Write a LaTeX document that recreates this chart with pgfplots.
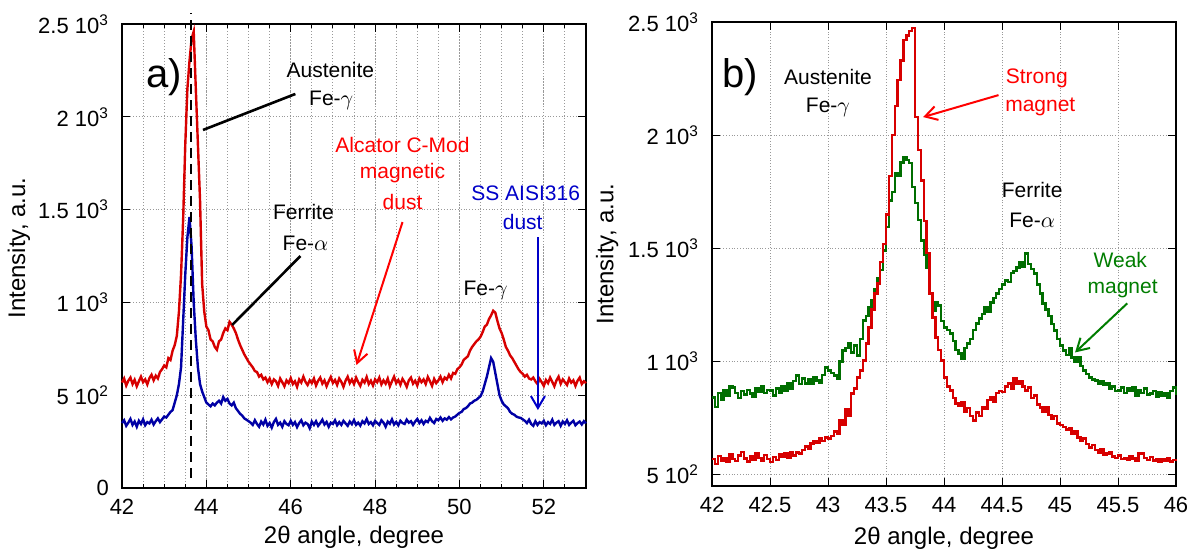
\documentclass[border=0pt]{standalone}
\usepackage{fontspec}
\setmainfont{Liberation Sans}
\usepackage{pgfplots}
\pgfplotsset{compat=1.18}
\usetikzlibrary{arrows.meta}
\definecolor{cred}{RGB}{215,0,0}
\definecolor{cblue}{RGB}{0,0,165}
\definecolor{cgreen}{RGB}{0,110,0}
\definecolor{tred}{RGB}{255,0,0}
\definecolor{tblue}{RGB}{0,0,200}
\definecolor{tgreen}{RGB}{0,125,0}
\tikzset{ann/.style={font=\fontsize{10.5}{12}\selectfont, anchor=center, inner sep=0pt}}
\pgfplotsset{
 common/.style={
  width=232pt, height=232pt, scale only axis,
  axis line style={line width=0.6pt, black},
  tick style={black, line width=0.5pt},
  major tick length=4pt, minor tick length=2pt,
  tick align=inside,
  grid style={densely dotted, gray!80, line width=0.5pt},
  minor grid style={densely dotted, gray!80, line width=0.5pt},
  ticklabel style={font=\fontsize{11}{13}\selectfont},
  xticklabel style={yshift=-2pt},
  yticklabel style={xshift=-3pt},
  xlabel style={font=\fontsize{12}{14}\selectfont},
  ylabel style={font=\fontsize{12}{14}\selectfont},
  clip=false,
 },
}
\begin{document}
\begin{tikzpicture}
% ---------------- panel a ----------------
\begin{axis}[common, at={(0pt,0pt)},
  xmin=42, xmax=53, ymin=0, ymax=2500,
  xtick={42,44,...,52}, xticklabels={42,44,46,48,50,52},
  minor xtick={42.5,43,...,53},
  ytick={0,500,1000,1500,2000,2500},
  yticklabels={0,5 10\textsuperscript{2},1 10\textsuperscript{3},1.5 10\textsuperscript{3},2 10\textsuperscript{3},2.5 10\textsuperscript{3}},
  xmajorgrids, xminorgrids, ymajorgrids,
  xlabel={2θ angle, degree}, ylabel={Intensity, a.u.},
  xlabel style={at={(axis description cs:0.5,-0.106)}, anchor=center},
  ylabel style={at={(axis description cs:-0.222,0.517)}, anchor=center},
]
\addplot[cred, line width=1.2pt] table {
42.00 568
42.05 590
42.10 552
42.15 578
42.20 595
42.25 560
42.30 583
42.35 548
42.40 575
42.45 600
42.50 570
42.55 585
42.60 558
42.65 592
42.70 610
42.75 580
42.80 605
42.85 590
42.90 625
42.95 640
43.00 660
43.05 650
43.10 700
43.15 690
43.20 740
43.25 770
43.30 820
43.35 950
43.40 1150
43.45 1450
43.50 1850
43.55 2150
43.60 2300
43.65 2420
43.70 2460
43.75 2150
43.80 1850
43.85 1550
43.90 1100
43.95 950
44.00 870
44.05 850
44.10 800
44.15 790
44.20 760
44.25 745
44.30 790
44.35 800
44.40 835
44.45 860
44.50 850
44.55 895
44.60 880
44.65 860
44.70 835
44.75 800
44.80 770
44.85 745
44.90 720
44.95 700
45.00 680
45.05 665
45.10 650
45.15 630
45.20 625
45.25 600
45.30 610
45.35 585
45.40 595
45.45 570
45.50 590
45.55 560
45.60 585
45.65 575
45.70 550
45.75 590
45.80 570
45.85 548
45.90 580
45.95 565
46.00 592
46.05 560
46.10 575
46.15 545
46.20 585
46.25 568
46.30 600
46.35 572
46.40 555
46.45 580
46.50 565
46.55 590
46.60 552
46.65 578
46.70 595
46.75 562
46.80 580
46.85 548
46.90 575
46.95 598
47.00 566
47.05 582
47.10 555
47.15 590
47.20 572
47.25 545
47.30 578
47.35 600
47.40 565
47.45 585
47.50 560
47.55 595
47.60 570
47.65 550
47.70 583
47.75 568
47.80 598
47.85 560
47.90 578
47.95 552
48.00 585
48.05 570
48.10 595
48.15 558
48.20 580
48.25 562
48.30 590
48.35 548
48.40 575
48.45 600
48.50 565
48.55 582
48.60 556
48.65 588
48.70 570
48.75 545
48.80 580
48.85 595
48.90 562
48.95 578
49.00 552
49.05 590
49.10 570
49.15 585
49.20 560
49.25 598
49.30 575
49.35 550
49.40 588
49.45 565
49.50 580
49.55 600
49.60 570
49.65 595
49.70 585
49.75 610
49.80 590
49.85 620
49.90 615
49.95 640
50.00 650
50.05 665
50.10 690
50.15 700
50.20 710
50.25 740
50.30 760
50.35 775
50.40 790
50.45 800
50.50 815
50.55 840
50.60 870
50.65 880
50.70 910
50.75 930
50.80 955
50.85 945
50.90 900
50.95 860
51.00 835
51.05 800
51.10 760
51.15 740
51.20 715
51.25 700
51.30 680
51.35 660
51.40 640
51.45 625
51.50 615
51.55 600
51.60 610
51.65 590
51.70 585
51.75 595
51.80 575
51.85 560
51.90 588
51.95 570
52.00 550
52.05 582
52.10 565
52.15 595
52.20 572
52.25 548
52.30 580
52.35 600
52.40 562
52.45 585
52.50 570
52.55 555
52.60 590
52.65 568
52.70 580
52.75 550
52.80 578
52.85 595
52.90 560
52.95 575
53.00 565
};
\addplot[cblue, line width=1.2pt] table {
42.00 350
42.05 365
42.10 335
42.15 352
42.20 372
42.25 340
42.30 358
42.35 330
42.40 362
42.45 345
42.50 370
42.55 338
42.60 355
42.65 348
42.70 368
42.75 342
42.80 360
42.85 375
42.90 355
42.95 370
43.00 385
43.05 380
43.10 395
43.15 410
43.20 420
43.25 460
43.30 500
43.35 560
43.40 650
43.45 900
43.50 1150
43.55 1350
43.60 1460
43.65 1300
43.70 1000
43.75 800
43.80 650
43.85 560
43.90 520
43.95 490
44.00 460
44.05 450
44.10 440
44.15 455
44.20 445
44.25 460
44.30 470
44.35 455
44.40 490
44.45 470
44.50 480
44.55 455
44.60 445
44.65 460
44.70 430
44.75 415
44.80 400
44.85 390
44.90 375
44.95 368
45.00 360
45.05 352
45.10 340
45.15 365
45.20 345
45.25 330
45.30 358
45.35 342
45.40 368
45.45 335
45.50 350
45.55 325
45.60 355
45.65 372
45.70 340
45.75 352
45.80 330
45.85 360
45.90 345
45.95 338
46.00 362
46.05 340
46.10 355
46.15 328
46.20 350
46.25 365
46.30 338
46.35 352
46.40 345
46.45 322
46.50 358
46.55 340
46.60 360
46.65 335
46.70 350
46.75 368
46.80 342
46.85 356
46.90 330
46.95 352
47.00 345
47.05 365
47.10 338
47.15 355
47.20 340
47.25 362
47.30 348
47.35 335
47.40 358
47.45 344
47.50 366
47.55 340
47.60 352
47.65 336
47.70 360
47.75 348
47.80 372
47.85 345
47.90 355
47.95 338
48.00 362
48.05 350
48.10 340
48.15 365
48.20 352
48.25 330
48.30 358
48.35 346
48.40 370
48.45 342
48.50 356
48.55 338
48.60 362
48.65 350
48.70 345
48.75 368
48.80 352
48.85 360
48.90 340
48.95 358
49.00 372
49.05 350
49.10 365
49.15 345
49.20 362
49.25 355
49.30 378
49.35 360
49.40 350
49.45 372
49.50 365
49.55 380
49.60 362
49.65 375
49.70 368
49.75 382
49.80 370
49.85 380
49.90 385
49.95 395
50.00 405
50.05 410
50.10 425
50.15 430
50.20 440
50.25 455
50.30 460
50.35 470
50.40 475
50.45 485
50.50 495
50.55 520
50.60 560
50.65 600
50.70 650
50.75 700
50.80 680
50.85 620
50.90 560
50.95 500
51.00 470
51.05 450
51.10 440
51.15 430
51.20 410
51.25 400
51.30 395
51.35 385
51.40 380
51.45 378
51.50 370
51.55 362
51.60 350
51.65 368
51.70 345
51.75 335
51.80 360
51.85 340
51.90 355
51.95 348
52.00 362
52.05 338
52.10 355
52.15 345
52.20 368
52.25 340
52.30 352
52.35 360
52.40 335
52.45 358
52.50 345
52.55 365
52.60 340
52.65 352
52.70 362
52.75 338
52.80 350
52.85 358
52.90 342
52.95 360
53.00 348
};
\draw[black, dash pattern=on 5pt off 3pt, line width=0.7pt] (axis cs:43.64,54) -- (axis cs:43.64,2559);
\node[ann, font=\fontsize{20}{24}\selectfont] at (axis cs:43.0,2214) {a)};
\node[ann] at (axis cs:46.94,2252) {Austenite};
\node[ann] at (axis cs:46.96,2091) {Fe-$\gamma$};
\draw[black, line width=1.3pt] (axis cs:43.92,1929) -- (axis cs:46.11,2123);
\node[ann] at (axis cs:46.30,1487) {Ferrite};
\node[ann] at (axis cs:46.35,1320) {Fe-$\alpha$};
\draw[black, line width=1.3pt] (axis cs:44.61,878) -- (axis cs:46.23,1250);
\node[ann, text=tred] at (axis cs:48.65,1848) {Alcator C-Mod};
\node[ann, text=tred] at (axis cs:48.65,1697) {magnetic};
\node[ann, text=tred] at (axis cs:48.65,1541) {dust};
\draw[tred, line width=1pt, -{Straight Barb[length=6pt,width=7pt]}] (axis cs:48.65,1433) -- (axis cs:47.56,663);
\node[ann, text=tblue] at (axis cs:51.57,1589) {SS AISI316};
\node[ann, text=tblue] at (axis cs:51.50,1433) {dust};
\draw[tblue, line width=1pt, -{Straight Barb[length=6pt,width=7pt]}] (axis cs:51.86,1352) -- (axis cs:51.86,420);
\node[ann] at (axis cs:50.62,1067) {Fe-$\gamma$};
\end{axis}
% ---------------- panel b ----------------
\begin{axis}[common, at={(295pt,1pt)},
  xmin=42, xmax=46, ymin=450, ymax=2500,
  xtick={42,42.5,...,46}, xticklabels={42,42.5,43,43.5,44,44.5,45,45.5,46},
  ytick={500,1000,1500,2000,2500},
  yticklabels={5 10\textsuperscript{2},1 10\textsuperscript{3},1.5 10\textsuperscript{3},2 10\textsuperscript{3},2.5 10\textsuperscript{3}},
  xmajorgrids, ymajorgrids,
  xlabel={2θ angle, degree}, ylabel={Intensity, a.u.},
  xlabel style={at={(axis description cs:0.5,-0.112)}, anchor=center},
  ylabel style={at={(axis description cs:-0.226,0.5)}, anchor=center},
]
\addplot[cgreen, line width=1.2pt, const plot] table {
42.000 841
42.025 800
42.050 860
42.075 830
42.100 875
42.125 850
42.150 890
42.175 885
42.200 860
42.225 840
42.250 870
42.275 855
42.300 875
42.325 858
42.350 845
42.375 880
42.400 865
42.425 890
42.450 860
42.475 875
42.500 872
42.525 850
42.550 880
42.575 862
42.600 890
42.625 872
42.650 905
42.675 880
42.700 915
42.725 938
42.750 900
42.775 925
42.800 903
42.825 920
42.850 900
42.875 930
42.900 916
42.925 905
42.950 940
42.975 973
43.000 960
43.025 950
43.050 938
43.075 925
43.100 1000
43.125 1049
43.150 1060
43.175 1080
43.200 1040
43.225 1070
43.250 1027
43.275 1100
43.300 1181
43.325 1200
43.350 1240
43.375 1270
43.400 1320
43.425 1370
43.450 1403
43.475 1491
43.500 1593
43.525 1712
43.550 1750
43.575 1832
43.600 1820
43.625 1880
43.650 1903
43.675 1890
43.700 1876
43.725 1770
43.750 1700
43.775 1624
43.800 1535
43.825 1470
43.850 1416
43.875 1301
43.900 1226
43.925 1260
43.950 1248
43.975 1180
44.000 1150
44.025 1140
44.050 1124
44.075 1090
44.100 1050
44.125 1035
44.150 1013
44.175 1060
44.200 1080
44.225 1100
44.250 1140
44.275 1168
44.300 1190
44.325 1210
44.350 1239
44.375 1220
44.400 1260
44.425 1280
44.450 1301
44.475 1320
44.500 1340
44.525 1358
44.550 1350
44.575 1390
44.600 1400
44.625 1416
44.650 1440
44.675 1420
44.700 1478
44.725 1430
44.750 1410
44.775 1389
44.800 1340
44.825 1300
44.850 1257
44.875 1230
44.900 1200
44.925 1165
44.950 1137
44.975 1100
45.000 1070
45.025 1049
45.050 1030
45.075 1060
45.100 1018
45.125 1000
45.150 1020
45.175 980
45.200 960
45.225 945
45.250 930
45.275 920
45.300 916
45.325 900
45.350 915
45.375 895
45.400 903
45.425 880
45.450 890
45.475 870
45.500 872
45.525 885
45.550 860
45.575 880
45.600 870
45.625 885
45.650 850
45.675 875
45.700 860
45.725 880
45.750 855
45.775 858
45.800 870
45.825 845
45.850 865
45.875 850
45.900 860
45.925 841
45.950 870
45.975 885
46.000 850
};
\addplot[cred, line width=1.2pt, const plot] table {
42.000 570
42.025 548
42.050 582
42.075 560
42.100 575
42.125 555
42.150 590
42.175 568
42.200 560
42.225 585
42.250 600
42.275 572
42.300 558
42.325 580
42.350 565
42.375 595
42.400 575
42.425 560
42.450 588
42.475 570
42.500 555
42.525 578
42.550 565
42.575 590
42.600 580
42.625 595
42.650 575
42.675 600
42.700 585
42.725 598
42.750 593
42.775 610
42.800 625
42.825 615
42.850 637
42.875 650
42.900 640
42.925 660
42.950 650
42.975 665
43.000 660
43.025 672
43.050 690
43.075 680
43.100 739
43.125 720
43.150 790
43.175 760
43.200 858
43.225 880
43.250 929
43.275 960
43.300 1004
43.325 1080
43.350 1150
43.375 1230
43.400 1300
43.425 1345
43.450 1440
43.475 1520
43.500 1650
43.525 1820
43.550 2000
43.575 2130
43.600 2243
43.625 2330
43.650 2420
43.675 2440
43.700 2460
43.725 2473
43.750 2080
43.775 1934
43.800 1800
43.825 1620
43.850 1480
43.875 1300
43.900 1195
43.925 1106
43.950 1050
43.975 1004
44.000 929
44.025 890
44.050 872
44.075 840
44.100 814
44.125 805
44.150 820
44.175 780
44.200 795
44.225 760
44.250 739
44.275 775
44.300 760
44.325 800
44.350 790
44.375 830
44.400 841
44.425 820
44.450 860
44.475 870
44.500 865
44.525 890
44.550 903
44.575 880
44.600 925
44.625 900
44.650 915
44.675 890
44.700 872
44.725 885
44.750 840
44.775 850
44.800 810
44.825 797
44.850 780
44.875 800
44.900 765
44.925 745
44.950 760
44.975 726
45.000 720
45.025 710
45.050 700
45.075 705
45.100 681
45.125 690
45.150 665
45.175 650
45.200 660
45.225 635
45.250 620
45.275 630
45.300 610
45.325 598
45.350 612
45.375 590
45.400 593
45.425 600
45.450 580
45.475 575
45.500 585
45.525 570
45.550 571
45.575 565
45.600 580
45.625 572
45.650 560
45.675 595
45.700 593
45.725 575
45.750 565
45.775 578
45.800 562
45.825 570
45.850 555
45.875 568
45.900 560
45.925 572
45.950 558
45.975 565
46.000 562
};
\node[ann, font=\fontsize{20}{24}\selectfont] at (axis cs:42.24,2257) {b)};
\node[ann] at (axis cs:43.0,2257) {Austenite};
\node[ann] at (axis cs:43.0,2124) {Fe-$\gamma$};
\node[ann, text=tred] at (axis cs:44.80,2252) {Strong};
\node[ann, text=tred] at (axis cs:44.83,2124) {magnet};
\draw[tred, line width=1pt, -{Straight Barb[length=6pt,width=7pt]}] (axis cs:44.47,2177) -- (axis cs:43.82,2080);
\node[ann] at (axis cs:44.76,1757) {Ferrite};
\node[ann] at (axis cs:44.76,1624) {Fe-$\alpha$};
\node[ann, text=tgreen] at (axis cs:45.52,1447) {Weak};
\node[ann, text=tgreen] at (axis cs:45.54,1323) {magnet};
\draw[tgreen, line width=1pt, -{Straight Barb[length=6pt,width=7pt]}] (axis cs:45.58,1257) -- (axis cs:45.13,1040);
\end{axis}
\pgfresetboundingbox
\path[use as bounding box] (-61pt,-35pt) rectangle (538.5pt,244pt);
\end{tikzpicture}
\end{document}
